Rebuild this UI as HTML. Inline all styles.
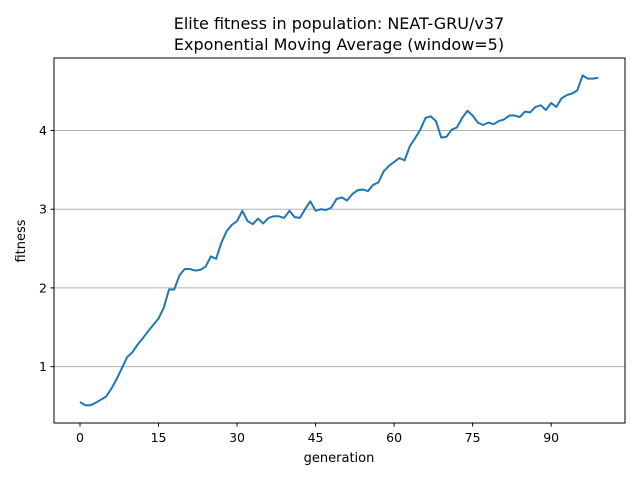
<!DOCTYPE html>
<html><head><meta charset="utf-8"><style>
body{margin:0;background:#fff;}
svg text{font-family:"DejaVu Sans","Liberation Sans",sans-serif;}
</style></head><body>
<svg width="640" height="480" id="chart">
<rect width="640" height="480" fill="#fff"/>
<text x="339" y="29" text-anchor="middle" font-size="16">Elite fitness in population: NEAT-GRU/v37</text>
<text x="339" y="50" text-anchor="middle" font-size="16">Exponential Moving Average (window=5)</text>
<g id="grid"></g>
<g id="ticks"></g>
<path id="line" fill="none" stroke="#1f77b4" stroke-width="2" stroke-linejoin="round"/>
<rect x="54" y="58" width="571" height="365" fill="none" stroke="#000" stroke-width="1"/>
<text x="339" y="462" text-anchor="middle" font-size="13">generation</text>
<text transform="translate(25,241) rotate(-90)" text-anchor="middle" font-size="13">fitness</text>
</svg>
<script>
const fitness=[0.55,0.51,0.51,0.54,0.58,0.62,0.72,0.84,0.98,1.12,1.18,1.28,1.36,1.45,1.53,1.61,1.75,1.98,1.98,2.16,2.24,2.24,2.22,2.23,2.27,2.40,2.37,2.57,2.72,2.80,2.85,2.98,2.85,2.81,2.88,2.82,2.89,2.91,2.91,2.89,2.98,2.90,2.89,3.00,3.10,2.98,3.00,2.99,3.02,3.13,3.15,3.11,3.19,3.24,3.25,3.23,3.31,3.34,3.48,3.55,3.60,3.65,3.62,3.80,3.90,4.01,4.16,4.18,4.12,3.91,3.92,4.01,4.04,4.16,4.25,4.19,4.10,4.07,4.10,4.08,4.12,4.14,4.19,4.19,4.17,4.24,4.23,4.30,4.32,4.26,4.35,4.30,4.41,4.45,4.47,4.51,4.70,4.66,4.66,4.67];
const xTicks=[0,15,30,45,60,75,90];
const yTicks=[1,2,3,4];
const NS="http://www.w3.org/2000/svg";
const xs=g=>80+g*5.235;
const ys=v=>445.3-v*78.7;
const grid=document.getElementById('grid'),ticks=document.getElementById('ticks');
function mk(tag,attrs,parent){const e=document.createElementNS(NS,tag);for(const k in attrs)e.setAttribute(k,attrs[k]);parent.appendChild(e);return e;}
yTicks.forEach(v=>{
  const y=ys(v);
  const gl=mk('line',{x1:54,x2:625,y1:y,y2:y,stroke:'#b0b0b0','stroke-width':1},grid);
  
  
  const tk=mk('line',{x1:50.5,x2:54,y1:y,y2:y,stroke:'#000'},ticks);
  
  
  const t=mk('text',{x:47,y:y+4.5,'text-anchor':'end','font-size':12.5},ticks);
  t.textContent=v;
  
  
});
xTicks.forEach(v=>{
  const x=xs(v);
  const tk=mk('line',{x1:x,x2:x,y1:423,y2:426.5,stroke:'#000'},ticks);
  
  
  const t=mk('text',{x:x,y:442,'text-anchor':'middle','font-size':12.5},ticks);
  t.textContent=v;
  
  
});
document.getElementById('line').setAttribute('d',fitness.map((v,i)=>(i?'L':'M')+xs(i).toFixed(1)+','+ys(v).toFixed(1)).join(''));
</script>
</body></html>
